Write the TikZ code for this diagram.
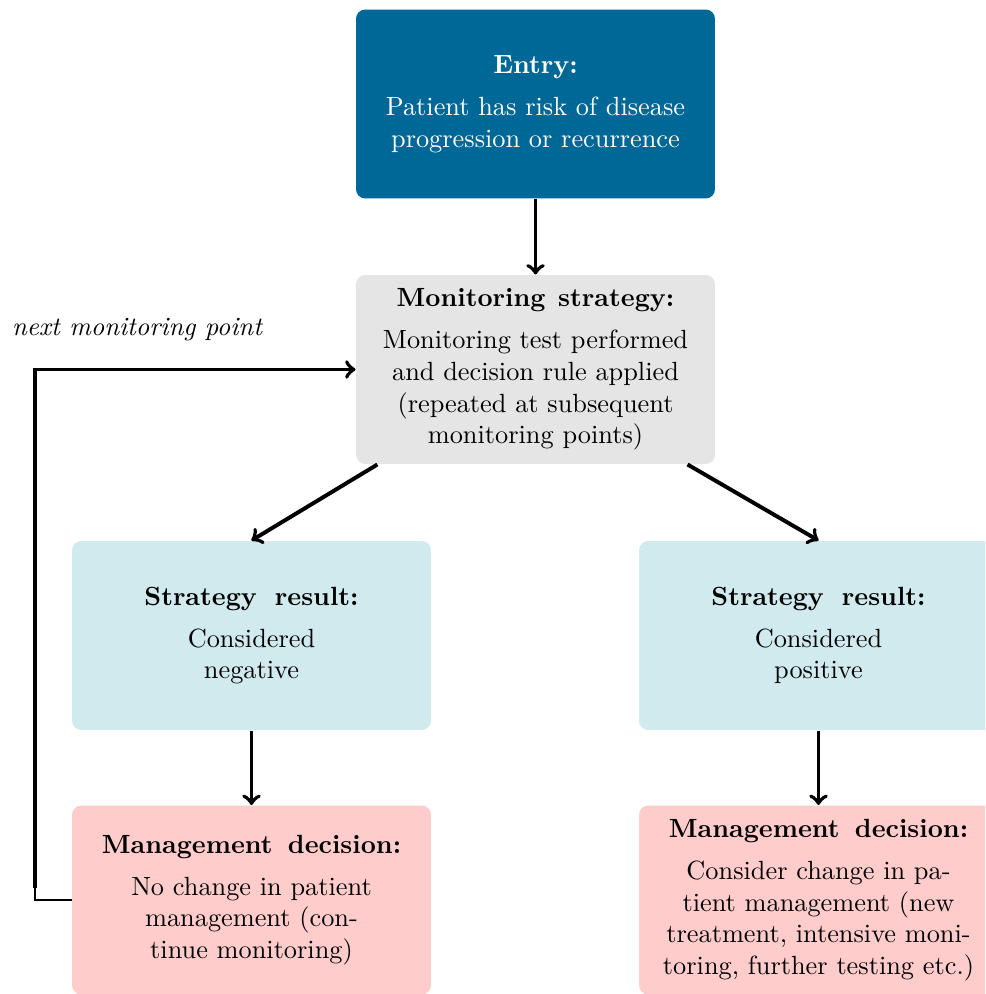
\documentclass[tikz,border=0pt]{standalone}
\usetikzlibrary{calc}
\definecolor{entryblue}{RGB}{0,104,150}
\definecolor{monitorgray}{RGB}{229,229,229}
\definecolor{resultcyan}{RGB}{208,234,238}
\definecolor{mgmtpink}{RGB}{255,204,204}
\begin{document}
\begin{tikzpicture}[x=0.38pt,y=-0.38pt,
  box/.style={rounded corners=3.5pt, minimum width=136.4pt, minimum height=71.8pt,
              inner sep=0pt, align=center},
  flow/.style={line width=1.5pt,->}]
\clip (0,0) rectangle (985,994);
\useasboundingbox (0,0) rectangle (985,994);

% boxes
\node[box, fill=entryblue, text=white] (entry) at (535.5,104)
  {\textbf{Entry:}\\[4pt]Patient has risk of disease\\progression or recurrence};
\node[box, fill=monitorgray] (monitor) at (535.5,369.5)
  {\textbf{Monitoring\hspace{0.1em} strategy:}\\[4pt]Monitoring test performed\\and decision rule applied\\(repeated at subsequent\\monitoring points)};
\node[box, fill=resultcyan] (neg) at (251.5,635.5)
  {\textbf{Strategy\hspace{0.3em} result:}\\[4pt]Considered\\negative};
\node[box, fill=resultcyan] (pos) at (818.5,635.5)
  {\textbf{Strategy\hspace{0.3em} result:}\\[4pt]Considered\\positive};
\node[box, fill=mgmtpink] (negmgmt) at (251.5,900)
  {\textbf{Management\hspace{0.2em} decision:}\\[4pt]No change in patient\\management (con-\\tinue monitoring)};
\node[box, fill=mgmtpink] (posmgmt) at (818.5,900)
  {\textbf{Management\hspace{0.2em} decision:}\\[4pt]Consider change in pa-\\tient management (new\\treatment, intensive moni-\\toring, further testing etc.)};

% connectors
\draw[flow] (entry) -- (monitor);
\draw[flow] (monitor.211.3) -- (neg.north);
\draw[flow] (monitor.328.7) -- (pos.north);
\draw[flow] (neg) -- (negmgmt);
\draw[flow] (pos) -- (posmgmt);

% feedback loop to the next monitoring point
\coordinate (loop) at (35,888);
\draw (negmgmt.west) -| (loop);
\draw[flow] (loop) |- (monitor.west);
\node[font=\itshape] (nextlbl) at (137,330) {next monitoring point};
\end{tikzpicture}
\end{document}
